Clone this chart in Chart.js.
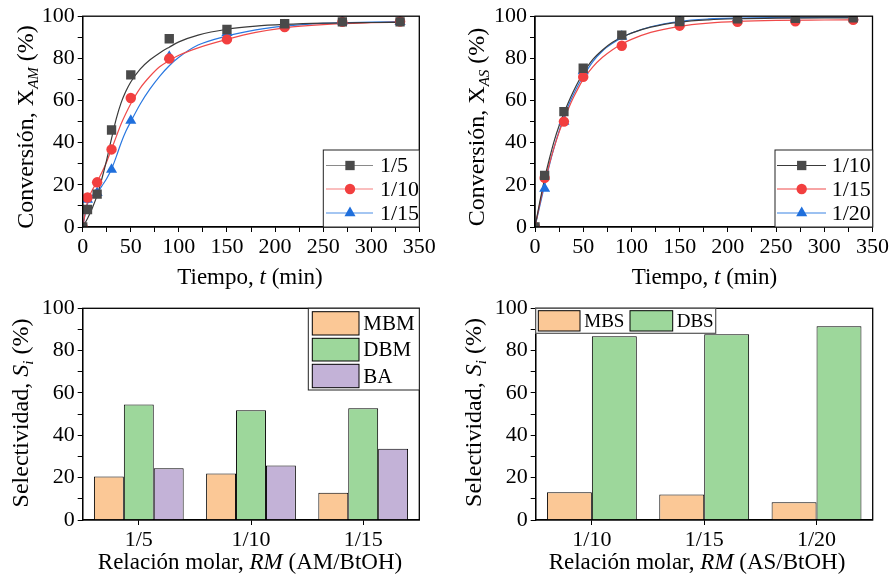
<!DOCTYPE html>
<html>
<head>
<meta charset="utf-8">
<script src="https://cdn.jsdelivr.net/npm/chart.js@4.4.1/dist/chart.umd.min.js"></script>
<style>
  html, body { margin: 0; padding: 0; background: #fff; }
  #wrap { position: relative; width: 891px; height: 575px; overflow: hidden; }
  canvas { position: absolute; }
</style>
</head>
<body>
<div id="wrap">
  <canvas id="c1" width="445" height="290" style="left:0;top:0"></canvas>
  <canvas id="c2" width="446" height="290" style="left:445px;top:0"></canvas>
  <canvas id="c3" width="445" height="285" style="left:0;top:290px"></canvas>
  <canvas id="c4" width="446" height="285" style="left:445px;top:290px"></canvas>
</div>
<script>
// ---------------- DATA ----------------
// Panel (a): conversion of AM vs time
const tAM = [0, 5, 15, 30, 50, 90, 150, 210, 270, 330];
const AM_1_5  = [0, 8.3, 15.6, 46.0, 72.2, 89.3, 93.7, 96.4, 97.3, 97.3];
const AM_1_10 = [0, 14.0, 21.2, 36.8, 61.2, 79.9, 89.0, 94.8, 97.3, 97.5];
const AM_1_15 = [0, 13.0, 16.2, 27.2, 50.5, 80.8, 92.1, 95.8, 97.6, 97.4];
// fitted curves
const tFit = [0, 5, 10, 15, 20, 25, 30, 35, 40, 45, 50, 60, 70, 80, 90, 100, 120, 150, 180, 210, 250, 300, 330];
const AMfit_1_5  = [0, 4, 9, 15, 23, 32, 42, 51.5, 59, 64.5, 68.8, 75, 79.3, 82.6, 85.3, 87.8, 91, 93.8, 95.3, 96.1, 96.7, 97, 97.1];
const AMfit_1_10 = [0, 12, 17.5, 21.5, 26, 31, 37, 43, 49, 54, 58.5, 66, 71.5, 76, 79, 81.5, 85, 89, 92.3, 94.5, 96, 96.9, 97.2];
const AMfit_1_15 = [0, 11, 14, 16, 19.5, 23, 27.5, 33.5, 40, 45.5, 50, 58.5, 65.5, 71.5, 76.5, 80.5, 86.3, 90.6, 93.5, 95.3, 96.6, 97.2, 97.4];

// Panel (b): conversion of AS vs time
const tAS = [0, 10, 30, 50, 90, 150, 210, 270, 330];
const AS_1_10 = [0, 24.5, 54.7, 75.3, 91.0, 97.5, 98.8, 99.0, 99.2];
const AS_1_15 = [0, 23.3, 50.0, 71.2, 86.0, 95.5, 97.3, 97.6, 98.3];
const AS_1_20 = [0, 18.2, 50.0, 74.0, 90.4, 98.0, 99.3, 99.4, 99.6];
const ASfit_1_10 = [0, 12, 23, 32.5, 41, 48, 54, 59.5, 64.5, 69, 73, 79.5, 84, 87.5, 90, 92, 94.8, 97.2, 98.3, 98.8, 99.1, 99.2, 99.2];
const ASfit_1_15 = [0, 11, 21, 30, 38, 45, 51, 56.5, 61.5, 66, 70, 76, 80.5, 84, 86.8, 89, 92.3, 95.2, 96.7, 97.5, 98, 98.2, 98.3];
const ASfit_1_20 = [0, 10, 20, 29.5, 38, 45.5, 52, 58, 63, 67.5, 71.5, 78.5, 83.5, 87, 89.8, 92, 95, 97.6, 98.7, 99.1, 99.3, 99.4, 99.4];

// Panel (c): selectivity, AM system
const rmAM = ['1/5', '1/10', '1/15'];
const S_MBM = [20.5, 22.0, 12.9];
const S_DBM = [54.6, 51.8, 52.8];
const S_BA  = [24.4, 25.7, 33.7];

// Panel (d): selectivity, AS system
const rmAS = ['1/10', '1/15', '1/20'];
const S_MBS = [13.1, 12.1, 8.4];
const S_DBS = [86.8, 87.7, 91.5];

// ---------------- STYLE ----------------
const FONT = '"Liberation Serif", "Times New Roman", serif';
const C_BLACK_M = '#4a4a4a', C_RED_M = '#f23f3f', C_BLUE_M = '#1f6fdc';
const C_BLACK_L = '#3a3a3a', C_RED_L = '#f04a4a', C_BLUE_L = '#2a78e0';
const C_ORANGE = '#fbc896', C_GREEN = '#9dd79b', C_PURPLE = '#c3b2d7';
const TICK_FS = 22, XT_FS = 23, YT_FS = 24, SUB_FS = 15;
const R_SQ = 6.6, R_CI = 5.2, R_TR = 6.4;

Chart.defaults.font.family = FONT;
Chart.defaults.color = '#000';
Chart.defaults.animation = false;

function pts(xs, ys) { return xs.map((x, i) => ({ x: x, y: ys[i] })); }

function drawRich(ctx, runs, cx, cy, rotate) {
  ctx.save();
  ctx.translate(cx, cy);
  if (rotate) ctx.rotate(-Math.PI / 2);
  let total = 0;
  runs.forEach(r => { ctx.font = r.font; r.w = ctx.measureText(r.text).width; total += r.w; });
  let x = -total / 2;
  ctx.textBaseline = 'alphabetic';
  ctx.textAlign = 'left';
  ctx.fillStyle = '#000';
  runs.forEach(r => { ctx.font = r.font; ctx.fillText(r.text, x, r.dy || 0); x += r.w; });
  ctx.restore();
}

const F = (s, it) => (it ? 'italic ' : '') + s + 'px ' + FONT;

function framePlugin(opts) {
  return {
    id: 'frame' + Math.random().toString(36).slice(2),
    afterDraw(chart) {
      const ctx = chart.ctx, a = chart.chartArea;
      ctx.save();
      ctx.strokeStyle = '#000';
      ctx.lineWidth = 1.3;
      ctx.strokeRect(a.left, a.top, a.right - a.left, a.bottom - a.top);
      ctx.restore();
      if (opts.legend) opts.legend(ctx, chart);
      drawRich(ctx, opts.xTitle, opts.xTitlePos[0], opts.xTitlePos[1], false);
      drawRich(ctx, opts.yTitle, opts.yTitlePos[0], opts.yTitlePos[1], true);
    }
  };
}

function drawMarker(ctx, style, x, y, r, color) {
  ctx.fillStyle = color;
  ctx.beginPath();
  if (style === 'rect') {
    const s = r * Math.SQRT1_2;
    ctx.rect(x - s, y - s, 2 * s, 2 * s);
  } else if (style === 'circle') {
    ctx.arc(x, y, r, 0, Math.PI * 2);
  } else {
    const s = r * 3 / Math.sqrt(3);
    const h = s * Math.sqrt(3) / 2;
    ctx.moveTo(x, y - 2 * h / 3);
    ctx.lineTo(x + s / 2, y + h / 3);
    ctx.lineTo(x - s / 2, y + h / 3);
    ctx.closePath();
  }
  ctx.fill();
}

function lineLegend(box, items, lx0, lx1, mx, tx, rows) {
  return function (ctx) {
    ctx.save();
    ctx.fillStyle = '#fff';
    ctx.fillRect(box[0], box[1], box[2] - box[0], box[3] - box[1]);
    ctx.strokeStyle = '#222';
    ctx.lineWidth = 1;
    ctx.strokeRect(box[0], box[1], box[2] - box[0], box[3] - box[1]);
    items.forEach((it, i) => {
      const y = rows[i];
      ctx.strokeStyle = it.line;
      ctx.lineWidth = 1.2;
      ctx.beginPath(); ctx.moveTo(lx0, y); ctx.lineTo(lx1, y); ctx.stroke();
      drawMarker(ctx, it.style, mx, y, it.r, it.marker);
      ctx.fillStyle = '#000';
      ctx.font = F(22);
      ctx.textBaseline = 'middle';
      ctx.textAlign = 'left';
      ctx.fillText(it.label, tx, y + 1);
    });
    ctx.restore();
  };
}

function lineChart(id, dims, datasets, legendFn, xTitle, xPos, yTitle, yPos) {
  const [W, H, L, T, R, B] = dims;
  return new Chart(document.getElementById(id), {
    type: 'scatter',
    data: { datasets: datasets },
    options: {
      responsive: false,
      animation: false,
      layout: { padding: { left: 0, top: T, right: W - R, bottom: 0 } },
      plugins: { legend: { display: false }, tooltip: { enabled: false } },
      scales: {
        x: {
          type: 'linear', min: 0, max: 350,
          afterFit: s => { s.height = H - B; },
          border: { color: '#000', width: 1.3 },
          grid: { drawOnChartArea: false, drawTicks: true, tickLength: 5, color: '#000' },
          ticks: { stepSize: 25, autoSkip: false, maxRotation: 0, padding: 2,
                   font: { size: TICK_FS, family: FONT }, color: '#000',
                   callback: v => (v % 50 === 0 ? String(v) : '') }
        },
        y: {
          min: 0, max: 100,
          afterFit: s => { s.width = L; },
          border: { color: '#000', width: 1.3 },
          grid: { drawOnChartArea: false, drawTicks: true, tickLength: 5, color: '#000' },
          ticks: { stepSize: 10, autoSkip: false, padding: 3,
                   font: { size: TICK_FS, family: FONT }, color: '#000',
                   callback: v => (v % 20 === 0 ? String(v) : '') }
        }
      }
    },
    plugins: [framePlugin({ legend: legendFn, xTitle: xTitle, xTitlePos: xPos, yTitle: yTitle, yTitlePos: yPos })]
  });
}

function curve(xs, ys, color) {
  return { data: pts(xs, ys), showLine: true, borderColor: color, borderWidth: 1.2,
           pointRadius: 0, cubicInterpolationMode: 'monotone', clip: 0, order: 2 };
}
function marks(xs, ys, style, r, color) {
  return { data: pts(xs, ys), showLine: false, pointStyle: style, pointRadius: r,
           backgroundColor: color, borderColor: color, borderWidth: 0, clip: 0, order: 1 };
}

// ---- Panel 1 ----
lineChart('c1', [445, 290, 82.7, 15, 419.3, 227], [
    curve(tFit, AMfit_1_5, C_BLACK_L),
    curve(tFit, AMfit_1_10, C_RED_L),
    curve(tFit, AMfit_1_15, C_BLUE_L),
    marks(tAM, AM_1_5, 'rect', R_SQ, C_BLACK_M),
    marks(tAM, AM_1_10, 'circle', R_CI, C_RED_M),
    marks(tAM, AM_1_15, 'triangle', R_TR, C_BLUE_M)
  ],
  lineLegend([323.3, 150, 419.3, 227], [
      { label: '1/5', line: '#8a8a8a', marker: C_BLACK_M, style: 'rect', r: R_SQ },
      { label: '1/10', line: '#f57f7f', marker: C_RED_M, style: 'circle', r: R_CI },
      { label: '1/15', line: '#4a8ee6', marker: C_BLUE_M, style: 'triangle', r: R_TR }
    ], 326, 373, 350, 380, [165.5, 189, 213]),
  [{ text: 'Tiempo, ', font: F(XT_FS) }, { text: 't', font: F(XT_FS, true) }, { text: ' (min)', font: F(XT_FS) }], [250, 284],
  [{ text: 'Conversión, X', font: F(YT_FS) }, { text: 'AM', font: F(SUB_FS, true), dy: 5 }, { text: ' (%)', font: F(YT_FS) }], [33, 127]
);

// ---- Panel 2 ----
lineChart('c2', [446, 290, 90, 15, 427.7, 227], [
    curve(tFit, ASfit_1_10, C_BLACK_L),
    curve(tFit, ASfit_1_15, C_RED_L),
    curve(tFit, ASfit_1_20, C_BLUE_L),
    marks(tAS, AS_1_10, 'rect', R_SQ, C_BLACK_M),
    marks(tAS, AS_1_15, 'circle', R_CI, C_RED_M),
    marks(tAS, AS_1_20, 'triangle', R_TR, C_BLUE_M)
  ],
  lineLegend([330, 150, 427.7, 227], [
      { label: '1/10', line: '#3a3a3a', marker: C_BLACK_M, style: 'rect', r: R_SQ },
      { label: '1/15', line: '#f04a4a', marker: C_RED_M, style: 'circle', r: R_CI },
      { label: '1/20', line: '#3a84e4', marker: C_BLUE_M, style: 'triangle', r: R_TR }
    ], 332, 381, 356.7, 386.7, [165.5, 189, 213]),
  [{ text: 'Tiempo, ', font: F(XT_FS) }, { text: 't', font: F(XT_FS, true) }, { text: ' (min)', font: F(XT_FS) }], [259.5, 284],
  [{ text: 'Conversión, X', font: F(YT_FS) }, { text: 'AS', font: F(SUB_FS, true), dy: 5 }, { text: ' (%)', font: F(YT_FS) }], [39, 127]
);

// ---- Bar charts ----
function barChart(id, dims, labels, datasets, legendFn, xTitle, xPos, yTitle, yPos) {
  const [W, H, L, T, R, B] = dims;
  return new Chart(document.getElementById(id), {
    type: 'bar',
    data: { labels: labels, datasets: datasets },
    options: {
      responsive: false,
      animation: false,
      layout: { padding: { left: 0, top: T, right: W - R, bottom: 0 } },
      plugins: { legend: { display: false }, tooltip: { enabled: false } },
      datasets: { bar: { categoryPercentage: 0.8, barPercentage: 1.0 } },
      scales: {
        x: {
          afterFit: s => { s.height = H - B; },
          border: { color: '#000', width: 1.3 },
          grid: { offset: false, drawOnChartArea: false, drawTicks: true, tickLength: 5, color: '#000' },
          ticks: { maxRotation: 0, padding: 2, font: { size: TICK_FS, family: FONT }, color: '#000' }
        },
        y: {
          min: 0, max: 100,
          afterFit: s => { s.width = L; },
          border: { color: '#000', width: 1.3 },
          grid: { drawOnChartArea: false, drawTicks: true, tickLength: 5, color: '#000' },
          ticks: { stepSize: 10, autoSkip: false, padding: 3,
                   font: { size: TICK_FS, family: FONT }, color: '#000',
                   callback: v => (v % 20 === 0 ? String(v) : '') }
        }
      }
    },
    plugins: [framePlugin({ legend: legendFn, xTitle: xTitle, xTitlePos: xPos, yTitle: yTitle, yTitlePos: yPos })]
  });
}
function bars(label, vals, color) {
  return { label: label, data: vals, backgroundColor: color, borderColor: '#000', borderWidth: 1, borderSkipped: 'start' };
}

function patchLegendV(box, items, px0, px1, rows, tx, fs, boxColor) {
  return function (ctx) {
    ctx.save();
    ctx.fillStyle = '#fff';
    ctx.fillRect(box[0], box[1], box[2] - box[0], box[3] - box[1]);
    ctx.strokeStyle = boxColor; ctx.lineWidth = 1;
    ctx.strokeRect(box[0], box[1], box[2] - box[0], box[3] - box[1]);
    items.forEach((it, i) => {
      const r = rows[i];
      ctx.fillStyle = it.color;
      ctx.fillRect(px0, r[0], px1 - px0, r[1] - r[0]);
      ctx.strokeStyle = '#000';
      ctx.strokeRect(px0, r[0], px1 - px0, r[1] - r[0]);
      ctx.fillStyle = '#000';
      ctx.font = F(fs);
      ctx.textBaseline = 'middle'; ctx.textAlign = 'left';
      ctx.fillText(it.label, tx, (r[0] + r[1]) / 2 + 1);
    });
    ctx.restore();
  };
}
function patchLegendH(box, items, fs, boxColor) {
  return function (ctx) {
    ctx.save();
    ctx.fillStyle = '#fff';
    ctx.fillRect(box[0], box[1], box[2] - box[0], box[3] - box[1]);
    ctx.strokeStyle = boxColor; ctx.lineWidth = 1.2;
    ctx.strokeRect(box[0], box[1], box[2] - box[0], box[3] - box[1]);
    items.forEach(it => {
      ctx.fillStyle = it.color;
      ctx.fillRect(it.p[0], it.p[1], it.p[2] - it.p[0], it.p[3] - it.p[1]);
      ctx.strokeStyle = '#000'; ctx.lineWidth = 1;
      ctx.strokeRect(it.p[0], it.p[1], it.p[2] - it.p[0], it.p[3] - it.p[1]);
      ctx.fillStyle = '#000';
      ctx.font = F(fs);
      ctx.textBaseline = 'middle'; ctx.textAlign = 'left';
      ctx.fillText(it.label, it.tx, (it.p[1] + it.p[3]) / 2 + 1);
    });
    ctx.restore();
  };
}

// ---- Panel 3 ----
barChart('c3', [445, 285, 82.7, 18.3, 419.3, 230], rmAM, [
    bars('MBM', S_MBM, C_ORANGE),
    bars('DBM', S_DBM, C_GREEN),
    bars('BA', S_BA, C_PURPLE)
  ],
  patchLegendV([308.3, 18.3, 419.3, 100], [
      { label: 'MBM', color: C_ORANGE },
      { label: 'DBM', color: C_GREEN },
      { label: 'BA', color: C_PURPLE }
    ], 312.3, 359, [[21.7, 45], [48.3, 71], [74.3, 97.7]], 363.3, 21, '#222'),
  [{ text: 'Relación molar, ', font: F(XT_FS) }, { text: 'RM', font: F(XT_FS, true) }, { text: ' (AM/BtOH)', font: F(XT_FS) }], [250, 279],
  [{ text: 'Selectividad, ', font: F(YT_FS) }, { text: 'S', font: F(YT_FS, true) }, { text: 'i', font: F(SUB_FS, true), dy: 5 }, { text: ' (%)', font: F(YT_FS) }], [28, 123]
);

// ---- Panel 4 ----
barChart('c4', [446, 285, 90.7, 18.3, 427.7, 230], rmAS, [
    bars('MBS', S_MBS, C_ORANGE),
    bars('DBS', S_DBS, C_GREEN)
  ],
  patchLegendH([90.7, 18.3, 270.7, 43.3], [
      { label: 'MBS', color: C_ORANGE, p: [93.3, 20.7, 135, 41], tx: 139.3 },
      { label: 'DBS', color: C_GREEN, p: [185, 20.7, 227.7, 41], tx: 231.7 }
    ], 19, '#555'),
  [{ text: 'Relación molar, ', font: F(XT_FS) }, { text: 'RM', font: F(XT_FS, true) }, { text: ' (AS/BtOH)', font: F(XT_FS) }], [252, 279],
  [{ text: 'Selectividad, ', font: F(YT_FS) }, { text: 'S', font: F(YT_FS, true) }, { text: 'i', font: F(SUB_FS, true), dy: 5 }, { text: ' (%)', font: F(YT_FS) }], [36, 122.5]
);
</script>
</body>
</html>
